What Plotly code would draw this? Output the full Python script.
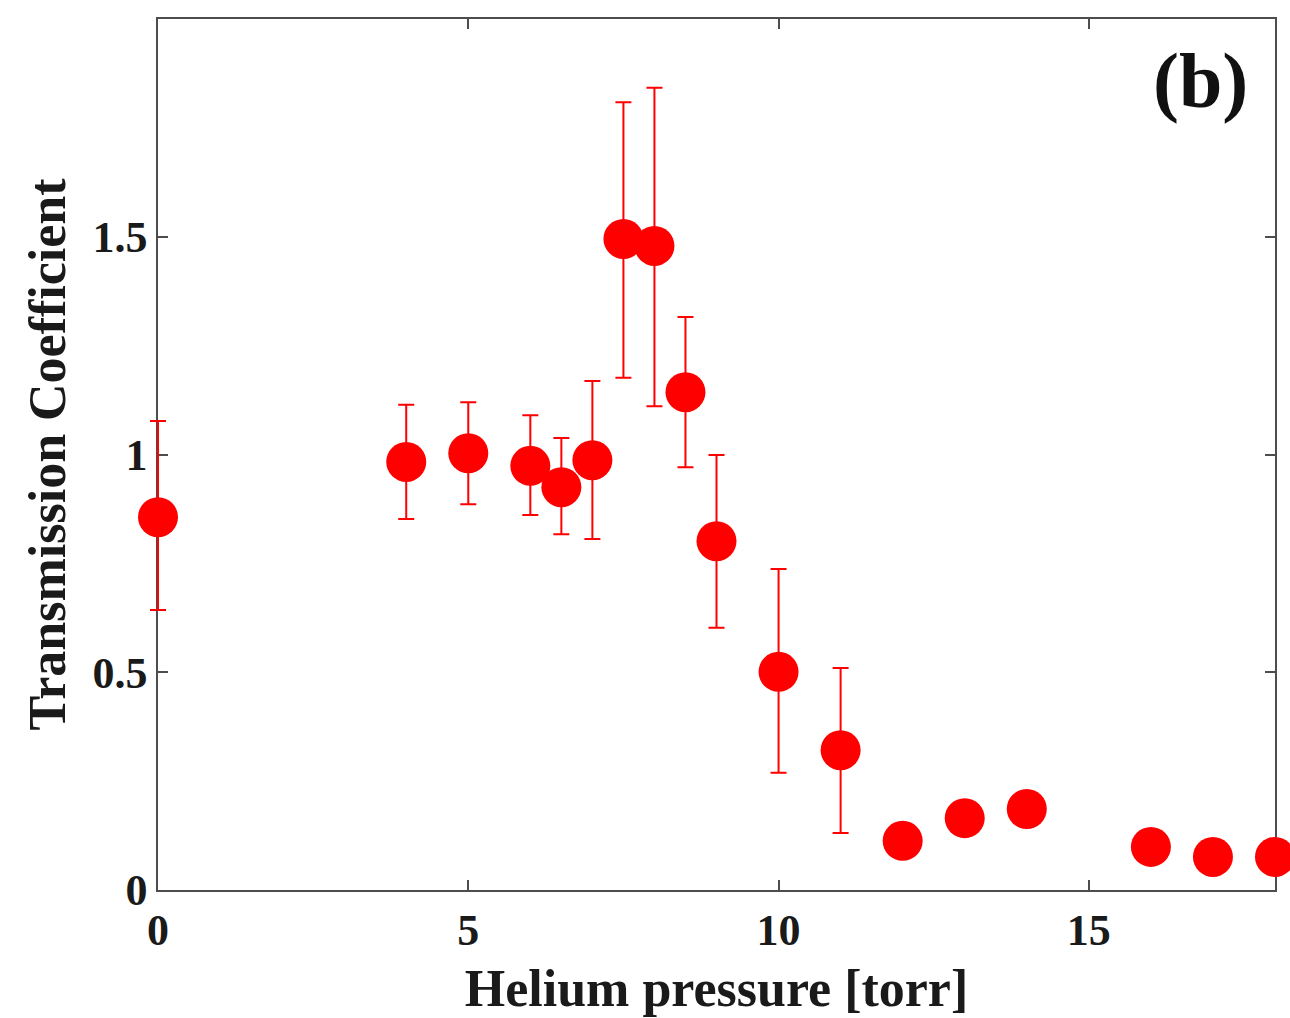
import plotly.graph_objects as go

pressure = [0, 4, 5, 6, 6.5, 7, 7.5, 8, 8.5, 9, 10, 11, 12, 13, 14, 16, 17, 18]
transmission = [0.856, 0.983, 1.003, 0.974, 0.925, 0.987, 1.495, 1.479, 1.143, 0.801,
                0.501, 0.321, 0.113, 0.165, 0.186, 0.099, 0.076, 0.076]
err_upper = [1.077, 1.114, 1.120, 1.090, 1.038, 1.169, 1.809, 1.842, 1.316, 0.999,
             0.737, 0.510, None, None, None, None, None, None]
err_lower = [0.643, 0.852, 0.886, 0.861, 0.817, 0.806, 1.176, 1.111, 0.971, 0.602,
             0.269, 0.131, None, None, None, None, None, None]

y_tickvals = [0, 0.5, 1, 1.5]
y_ticktext = ["0", "0.5", "1", "1.5"]
x_tickvals = [0, 5, 10, 15]
x_range = [0, 18]
y_range = [0, 2]

RED = "#ff0000"
FONT = "Liberation Serif"
W, H = 1290, 1018
ML, MR, MT, MB = 100, 15, 19, 128
AXIS_LEFT_PX = 158  # pixel where main plot frame starts

plot_w = W - ML - MR
d0 = (AXIS_LEFT_PX - ML) / plot_w
frame_w = plot_w * (1 - d0)
units_per_px = (x_range[1] - x_range[0]) / frame_w
x2_range = [x_range[0] - (AXIS_LEFT_PX - ML) * units_per_px, x_range[1]]

xe, ye, ep, em = [], [], [], []
for x, y, u, l in zip(pressure, transmission, err_upper, err_lower):
    if u is not None:
        xe.append(x); ye.append(y); ep.append(u - y); em.append(y - l)

fig = go.Figure()
# empty trace so the framed (visible) axes are drawn
fig.add_trace(go.Scatter(x=[], y=[], mode="markers", showlegend=False, hoverinfo="skip"))
# error bars on the helper axes (aligned with the framed axes)
fig.add_trace(go.Scatter(
    x=xe, y=ye, mode="markers", xaxis="x2", yaxis="y2",
    marker=dict(size=1, color="rgba(0,0,0,0)", line=dict(width=0)),
    error_y=dict(type="data", symmetric=False, array=ep, arrayminus=em,
                 color=RED, thickness=2, width=8),
    cliponaxis=False, showlegend=False, hoverinfo="skip",
))
# markers
fig.add_trace(go.Scatter(
    x=pressure, y=transmission, mode="markers", xaxis="x2", yaxis="y2",
    marker=dict(size=40, color=RED, line=dict(width=0)),
    cliponaxis=False, showlegend=False,
))

axis_common = dict(
    showline=True, linecolor="#4d4d4d", linewidth=1.5, mirror="ticks",
    ticks="inside", ticklen=10, tickwidth=1.5, tickcolor="#4d4d4d",
    showgrid=False, zeroline=False,
    tickfont=dict(family=FONT, size=44, color="#1a1a1a", weight="bold"),
)

fig.update_layout(
    width=W, height=H,
    margin=dict(l=ML, r=MR, t=MT, b=MB),
    paper_bgcolor="white", plot_bgcolor="rgba(0,0,0,0)",
    xaxis=dict(domain=[d0, 1], range=x_range, tickvals=x_tickvals,
               ticktext=[str(v) for v in x_tickvals],
               title=dict(text="Helium pressure [torr]",
                          font=dict(family=FONT, size=52, color="#1a1a1a", weight="bold"),
                          standoff=16),
               **axis_common),
    yaxis=dict(range=y_range, tickvals=y_tickvals, ticktext=y_ticktext,
               title=dict(text="Transmission Coefficient",
                          font=dict(family=FONT, size=52, color="#1a1a1a", weight="bold"),
                          standoff=10),
               **axis_common),
    xaxis2=dict(domain=[0, 1], range=x2_range, visible=False, anchor="y2"),
    yaxis2=dict(domain=[0, 1], range=y_range, visible=False, anchor="x2"),
    font=dict(family=FONT, size=44, color="#1a1a1a"),
    annotations=[dict(text="(b)", x=0.978, y=0.982, xref="x domain", yref="y domain",
                      xanchor="right", yanchor="top", showarrow=False,
                      font=dict(family=FONT, size=78, color="#111111", weight="bold"))],
)

fig.write_html("out.html")
